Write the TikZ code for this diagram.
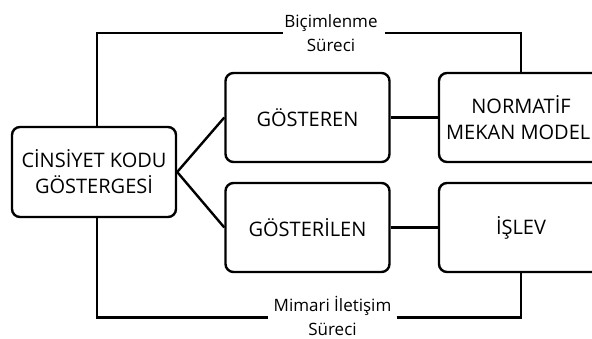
\documentclass[tikz,border=0pt]{standalone}
\usepackage{fontspec}
\setmainfont{Open Sans}
\begin{document}
\begin{tikzpicture}[x=1pt,y=-1pt,
  box/.style={draw, line width=2.4pt, rounded corners=8pt, inner sep=0pt,
    minimum width=164pt, minimum height=89pt, align=center,
    font=\fontsize{20}{26}\selectfont},
  lab/.style={inner ysep=0pt, align=center, font=\fontsize{17}{24}\selectfont},
  conn/.style={line width=2.4pt}]
\clip (0,0) rectangle (592,338);
\node[box, minimum height=90pt] (L) at (94,172) {CİNSİYET KODU\\GÖSTERGESİ};
\node[box] (G1) at (307.5,117.5) {GÖSTEREN};
\node[box] (N) at (521,117.5) {NORMATİF\\MEKAN MODELİ};
\node[box] (G2) at (307.5,227.5) {GÖSTERİLEN};
\node[box] (I) at (521,227.5) {İŞLEV};
\node[lab, inner xsep=1pt] (top) at (331,33) {Biçimlenme\\Süreci};
\node[lab, inner xsep=5pt] (bot) at (332.5,315.5) {Mimari İletişim\\Süreci};
\coordinate (tx) at (97,0);
\draw[conn] (L.east) -- (G1.west);
\draw[conn] (L.east) -- (G2.west);
\draw[conn] (G1.east) -- (N.west);
\draw[conn] (G2.east) -- (I.west);
\draw[conn] (L.north -| tx) |- (top.west);
\draw[conn] ([xshift=6pt]top.east) -| (N.north);
\draw[conn] (L.south -| tx) |- ([yshift=-2pt]bot.west);
\draw[conn] ([yshift=-2pt]bot.east) -| (I.south);
\end{tikzpicture}
\end{document}
